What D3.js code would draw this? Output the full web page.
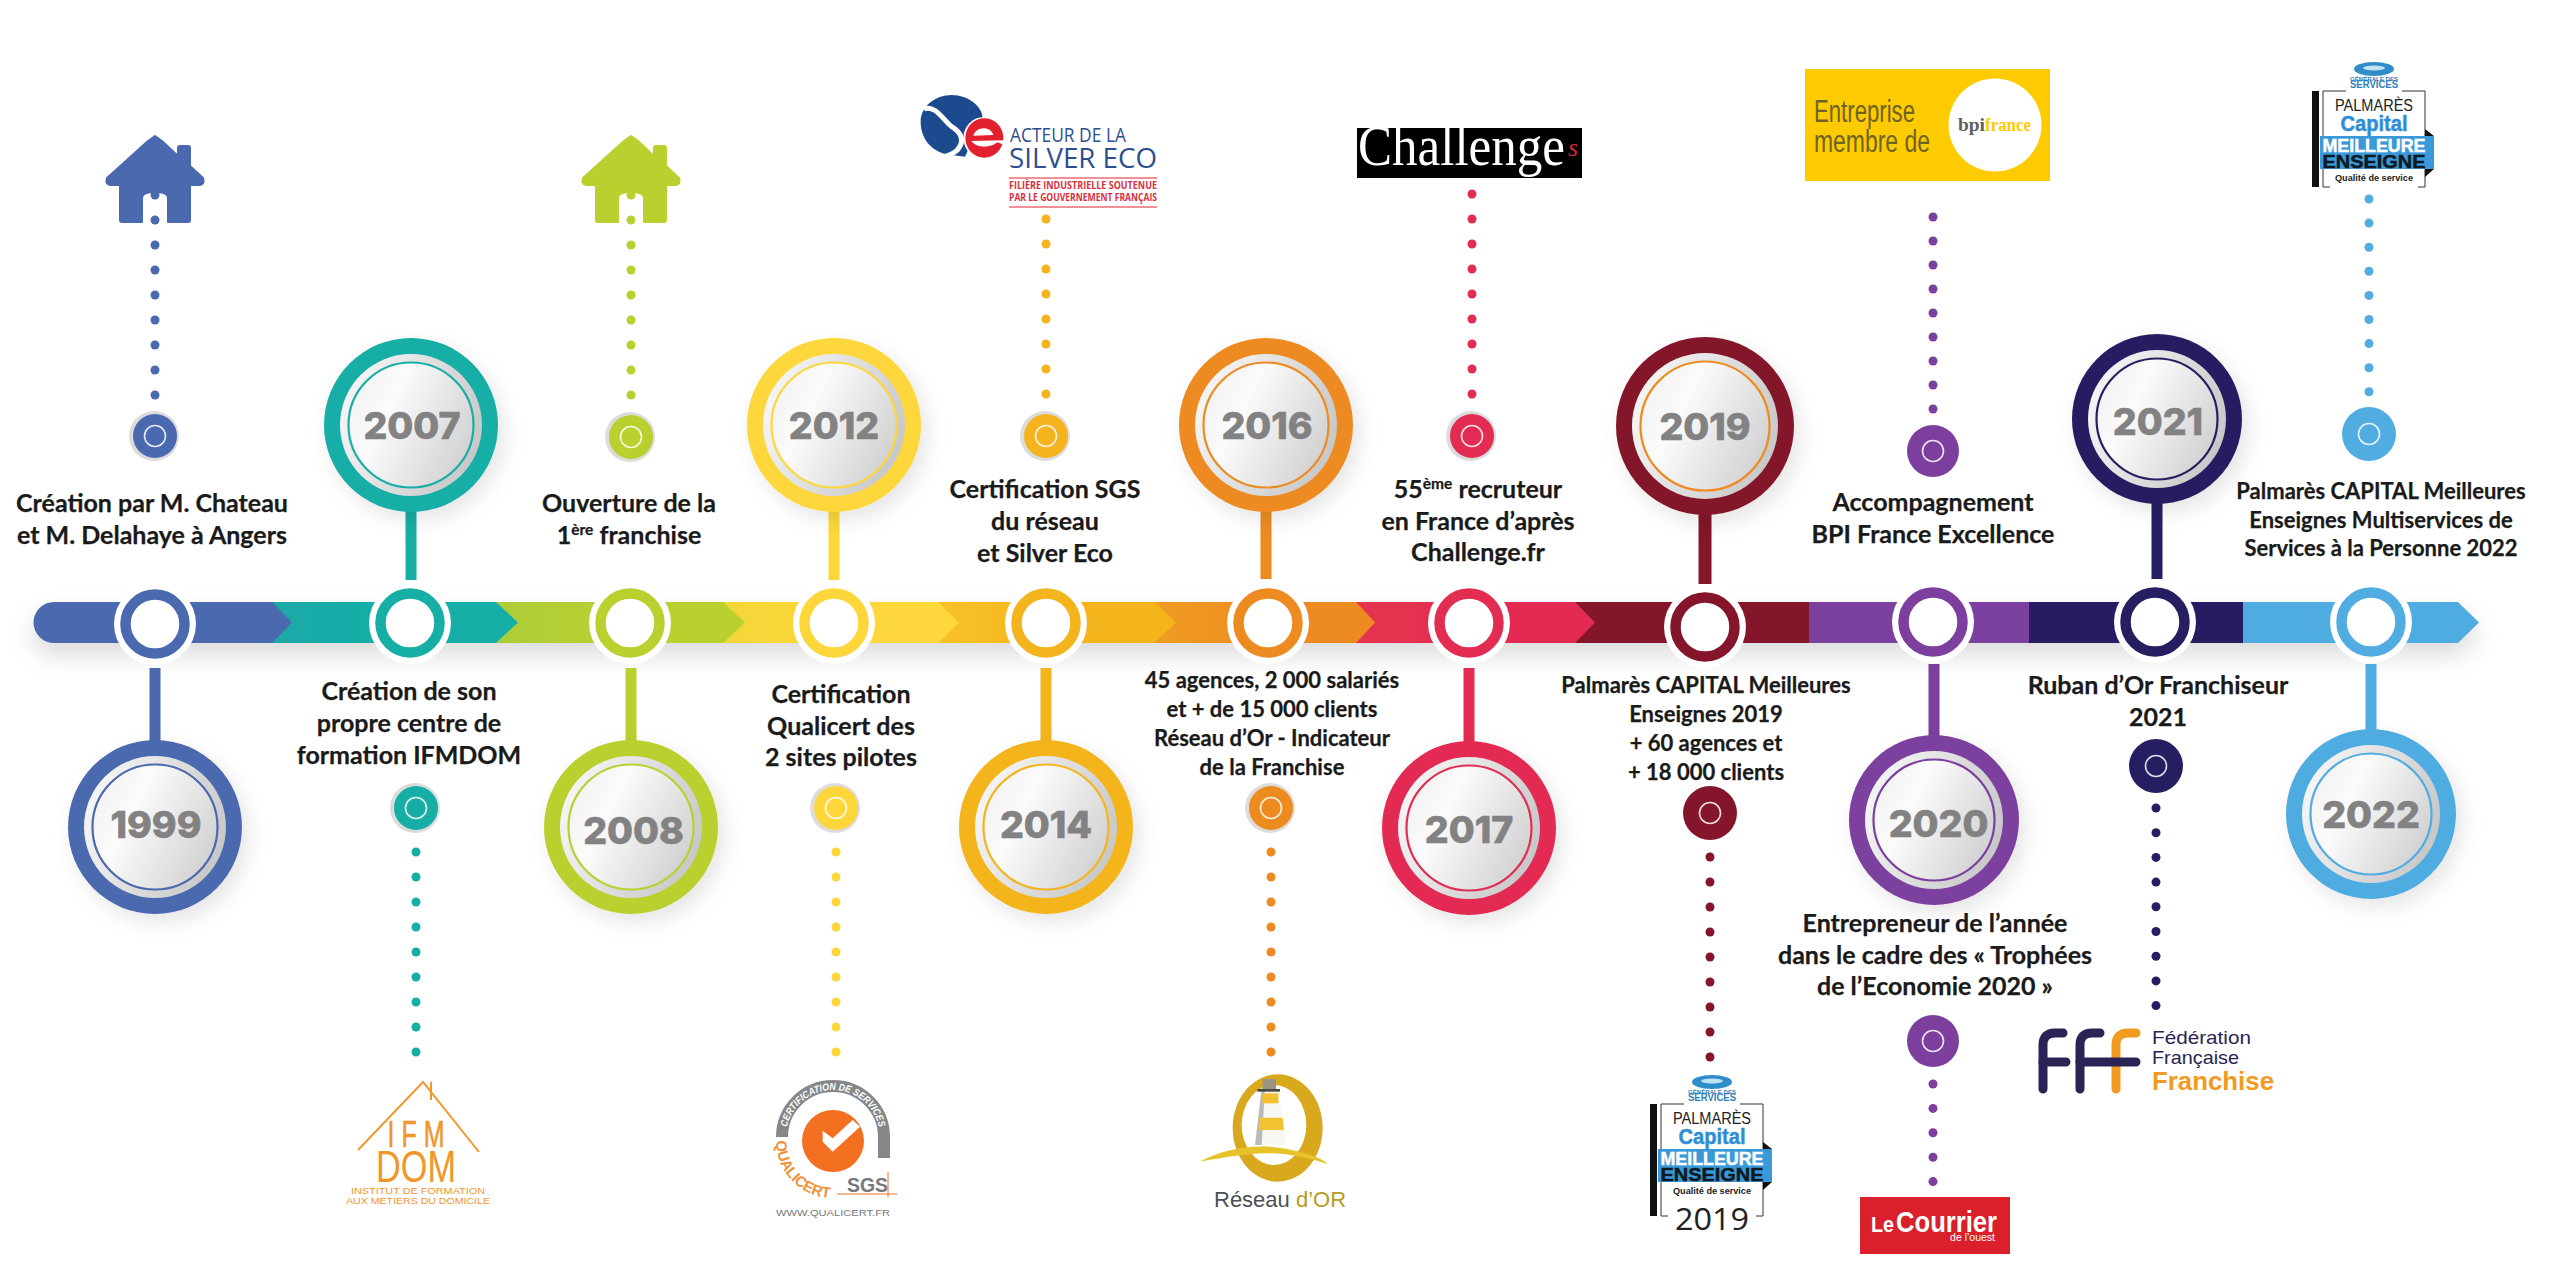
<!DOCTYPE html>
<html>
<head>
<meta charset="utf-8">
<script src="https://cdn.jsdelivr.net/npm/d3@7"></script>
<style>
html,body{margin:0;padding:0;background:#fff;overflow:hidden}
svg{display:block}
</style>
</head>
<body>
<script>
// timeline data
var years = ["1999","2007","2008","2012","2014","2016","2017","2019","2020","2021","2022"];
var bubbleDown = [1,0,1,0,1,0,1,0,1,0,1];
var dotCounts = [9,9,9,9,8,9,9,9,9,9,9];
var eventLabels = [
  ["Création par M. Chateau","et M. Delahaye à Angers"],
  ["Création de son","propre centre de","formation IFMDOM"],
  ["Ouverture de la","1^ère^ franchise"],
  ["Certification","Qualicert des","2 sites pilotes"],
  ["Certification SGS","du réseau","et Silver Eco"],
  ["45 agences, 2 000 salariés","et + de 15 000 clients","Réseau d’Or - Indicateur","de la Franchise"],
  ["55^ème^ recruteur","en France d’après","Challenge.fr"],
  ["Palmarès CAPITAL Meilleures","Enseignes 2019","+ 60 agences et","+ 18 000 clients"],
  ["Accompagnement","BPI France Excellence"],
  ["Ruban d’Or Franchiseur","2021"],
  ["Palmarès CAPITAL Meilleures","Enseignes Multiservices de","Services à la Personne 2022"]
];
var extraLabel = ["Entrepreneur de l’année","dans le cadre des « Trophées","de l’Economie 2020 »"];
var palette = ["#4b69ae","#17aea6","#b9d02f","#fdd73a","#f4b41e","#ed8b21","#e32c52","#84152a","#7c3f9e","#251f62","#50ace1"];

var width = 2560, height = 1288;

// layout scales, year -> pixel
var colour = d3.scaleOrdinal(years, palette);
var thinColour = d3.scaleOrdinal(years, ["#4b69ae","#17aea6","#b9d02f","#fdd73a","#f4b41e","#ed8b21","#e32c52","#ed8b21","#7c3f9e","#251f62","#50ace1"]);
var nodeX = d3.scaleOrdinal(years, [155,410,630,834,1046,1268,1469,1705,1933,2155,2371]);
var nodeY = d3.scaleOrdinal(years, [624,623,623,623,623,623,623,627,622,622,622]);
var bubbleX = d3.scaleOrdinal(years, [155,411,631,834,1046,1266,1469,1705,1934,2157,2371]);
var bubbleY = d3.scaleOrdinal(years, [827,425,827,425,827,425,828,426,820,419,814]);
var bubbleR = d3.scaleOrdinal(years, [87,87,87,87,87,87,87,89,85,85,85]);
var yearDx = d3.scaleOrdinal(years, [1,1,2.5,0,0,1,0,0,4.5,1,0]);
var yearDy = d3.scaleOrdinal(years, [-3,0,3,0,-2.5,0,1,0,3,2,0]);
var stemEnd = d3.scaleOrdinal(years, [668,580,668,580,668,579,668,584,664,579,664]);
var pinX = d3.scaleOrdinal(years, [155,416,631,836,1046,1271,1472,1710,1933,2156,2369]);
var pinY = d3.scaleOrdinal(years, [436,808,437,808,436,808,436,813,451,766,434]);
var pinR = d3.scaleOrdinal(years, [22,22,22,22,22,22,22,27,26,27,27]);
var labelX = d3.scaleOrdinal(years, [152,409,629,841,1045,1272,1478,1706,1933,2158,2381]);
var labelY = d3.scaleOrdinal(years, [512,700,512,703,498,688,498,693,511,694,499]);
var labelStep = d3.scaleOrdinal(years, [31.5,32,31.5,31.5,32,29,31.5,29,32,32,28.5]);
var labelSize = d3.scaleOrdinal(years, [25,25,25,25,25,22,25,22,25,25,22]);
var firstDot = d3.scaleOrdinal(years, [195,852,195,852,219,852,194,857,217,808,199]);
var dotStep = d3.scaleOrdinal(years, [25,25,25,25,25,25,25,25,24,24.7,24.1]);
// arrow ends along the band, last one is the final tip
var segEnd = d3.scaleOrdinal(years, [292,518,745,959,1176,1375,1595,1809,2029,2243,2479]);
var arrow = d3.scaleOrdinal(years, [20,22,22,21,22,19,20,0,0,0,21]);
// how much of the segment's own colour shows at its start (1 = flat)
var segMix = d3.scaleOrdinal(years, [1,0.92,0.92,0.85,0.6,0.55,0.92,1,1,1,1]);

var svg = d3.select("body").append("svg").attr("width",width).attr("height",height);
var defs = svg.append("defs");

var f = defs.append("filter").attr("id","soft").attr("x","-30%").attr("y","-30%").attr("width","160%").attr("height","160%");
f.append("feDropShadow").attr("dx",6).attr("dy",8).attr("stdDeviation",10).attr("flood-color","#000").attr("flood-opacity",0.1);
var fb = defs.append("filter").attr("id","bandShadow").attr("x","-5%").attr("y","-150%").attr("width","110%").attr("height","400%");
fb.append("feDropShadow").attr("dx",0).attr("dy",12).attr("stdDeviation",12).attr("flood-color","#000").attr("flood-opacity",0.14);

var g1 = defs.append("linearGradient").attr("id","rim").attr("x1","0").attr("y1","0.3").attr("x2","1").attr("y2","0.7");
g1.append("stop").attr("offset","0").attr("stop-color","#f6f6f6");
g1.append("stop").attr("offset","1").attr("stop-color","#c6c6c6");
var g2 = defs.append("linearGradient").attr("id","face").attr("x1","0").attr("y1","0.25").attr("x2","1").attr("y2","0.75");
g2.append("stop").attr("offset","0").attr("stop-color","#f2f2f2");
g2.append("stop").attr("offset","0.3").attr("stop-color","#fbfbfb");
g2.append("stop").attr("offset","1").attr("stop-color","#cfcfcf");

// band, drawn from the last segment back so each arrow tip lies over the next colour
var band = svg.append("g").attr("filter","url(#bandShadow)");
var bandTop = 602, bandH = 41;
function segStart(k){ return k==0 ? 54 : segEnd(years[k-1])-arrow(years[k-1])-2; }
years.forEach(function(y,k){
  if(segMix(y)==1) return;
  var lg = defs.append("linearGradient").attr("id","seg"+y).attr("gradientUnits","userSpaceOnUse")
    .attr("x1",segStart(k)).attr("x2",segStart(k)+120).attr("y1",0).attr("y2",0);
  lg.append("stop").attr("offset",0).attr("stop-color",d3.interpolateRgb(colour(years[k-1]),colour(y))(segMix(y)));
  lg.append("stop").attr("offset",1).attr("stop-color",colour(y));
});
band.selectAll("path.seg")
  .data(years.slice().reverse())
  .enter().append("path").attr("class","seg")
  .attr("fill",function(d){ return segMix(d)==1 ? colour(d) : "url(#seg"+d+")"; })
  .attr("d",function(d){
    var k = years.indexOf(d), x0 = segStart(k);
    var e = segEnd(d), a = arrow(d), p = d3.path();
    p.moveTo(x0,bandTop);
    p.lineTo(e-a,bandTop);
    p.lineTo(e,bandTop+bandH/2);
    p.lineTo(e-a,bandTop+bandH);
    p.lineTo(x0,bandTop+bandH);
    if(k==0){p.arc(x0,bandTop+bandH/2,bandH/2,Math.PI/2,Math.PI*1.5);}
    p.closePath();
    return p.toString();
  });

// connectors between band node and bubble
svg.selectAll("rect.stem")
  .data(years)
  .enter().append("rect").attr("class","stem")
  .attr("x",function(d){return bubbleX(d)-(d=="2019"?6.5:5.5);})
  .attr("width",function(d){return d=="2019"?13:11;})
  .attr("y",function(d,i){return bubbleDown[i] ? stemEnd(d) : bubbleY(d)+bubbleR(d)-6;})
  .attr("height",function(d,i){return bubbleDown[i] ? bubbleY(d)-stemEnd(d)-bubbleR(d)+6 : stemEnd(d)-bubbleY(d)-bubbleR(d)+6;})
  .attr("fill",function(d){return colour(d);});

// node rings on the band
var nodes = svg.selectAll("g.node").data(years).enter().append("g").attr("class","node")
  .attr("transform",function(d){return "translate("+nodeX(d)+","+nodeY(d)+")";});
nodes.append("circle").attr("r",41).attr("fill","#fff");
nodes.append("circle").attr("r",29.5).attr("fill","#fff")
  .attr("stroke",function(d){return colour(d);}).attr("stroke-width",10.5);

// year bubbles
var bubbles = svg.selectAll("g.bubble").data(years).enter().append("g").attr("class","bubble")
  .attr("transform",function(d){return "translate("+bubbleX(d)+","+bubbleY(d)+")";});
bubbles.append("circle").attr("r",function(d){return bubbleR(d);})
  .attr("fill",function(d){return colour(d);}).attr("filter","url(#soft)");
bubbles.append("circle").attr("r",function(d){return bubbleR(d)-16;}).attr("fill","url(#rim)");
bubbles.append("circle").attr("r",function(d){return bubbleR(d)-24.5;}).attr("fill","url(#face)")
  .attr("stroke",function(d){return thinColour(d);}).attr("stroke-width",2.2);
bubbles.append("text").text(function(d){return d;})
  .attr("text-anchor","middle")
  .attr("x",function(d){return yearDx(d);})
  .attr("y",function(d){return 13.5+yearDy(d);})
  .attr("font-family","Inter").attr("font-weight",800).attr("font-size",37.5)
  .attr("fill","#828282").attr("stroke","#828282").attr("stroke-width",0.6);

// pins: halo, disc and small white ring
var pins = svg.selectAll("g.pin").data(years).enter().append("g").attr("class","pin")
  .attr("transform",function(d){return "translate("+pinX(d)+","+pinY(d)+")";});
pins.append("circle").attr("r",function(d){return pinR(d)+3;})
  .attr("fill",function(d){return pinR(d)<25 ? "#dcdcdc" : "none";}).attr("transform","translate(-1,0)");
pins.append("circle").attr("r",function(d){return pinR(d);}).attr("fill",function(d){return colour(d);});
pins.append("circle").attr("r",10.5).attr("fill","none").attr("stroke","#fff").attr("stroke-opacity",0.85).attr("stroke-width",1.6);

// dotted leaders
years.forEach(function(y,i){
  svg.append("g").selectAll("circle")
    .data(d3.range(dotCounts[i]))
    .enter().append("circle")
    .attr("cx",pinX(y))
    .attr("cy",function(k){return firstDot(y)+k*dotStep(y);})
    .attr("r",4.5)
    .attr("fill",colour(y));
});
// second pin and leader of 2020, below the bubble
var extraPin = svg.append("g").attr("transform","translate(1933,1041)");
extraPin.append("circle").attr("r",26).attr("fill",colour("2020"));
extraPin.append("circle").attr("r",10.5).attr("fill","none").attr("stroke","#fff").attr("stroke-opacity",0.85).attr("stroke-width",1.6);
svg.append("g").selectAll("circle").data(d3.range(5)).enter().append("circle")
  .attr("cx",1933).attr("cy",function(k){return 1084+k*24.4;}).attr("r",4.5).attr("fill",colour("2020"));

// labels with ^sup^ markup
function writeLines(sel,lines,x,y,step,size){
  var t = sel.append("g").attr("font-family","Lato").attr("font-weight",700)
    .attr("font-size",size).attr("fill","#1a1a1a").attr("stroke","#1a1a1a").attr("stroke-width",0.25).attr("text-anchor","middle");
  t.selectAll("text").data(lines).enter().append("text")
    .attr("x",x).attr("y",function(d,i){return y+i*step;})
    .each(function(d){
      var el = d3.select(this);
      d.split("^").forEach(function(part,n){
        var ts = el.append("tspan").text(part);
        if(n==1){ts.attr("dy",-size*0.35).attr("font-size",size*0.62);}
        if(n==2){ts.attr("dy",size*0.35);}
      });
    });
}
years.forEach(function(y,i){
  writeLines(svg,eventLabels[i],labelX(y),labelY(y),labelStep(y),labelSize(y));
});
writeLines(svg,extraLabel,1935,932,31.5,25);

// logos, plain shapes and text
function logoText(g,s,x,y,size,fill,opt){
  opt = opt||{};
  var t = g.append("text").text(s).attr("x",x).attr("y",y).attr("font-size",size).attr("fill",fill)
    .attr("font-family",opt.family||"Liberation Sans").attr("font-weight",opt.weight||400)
    .attr("text-anchor",opt.anchor||"middle").attr("font-style",opt.style||"normal")
    .attr("letter-spacing",opt.spacing||0);
  if(opt.len){t.attr("textLength",opt.len).attr("lengthAdjust","spacingAndGlyphs");}
  return t;
}
function house(x,fill){
  var g = svg.append("g").attr("transform","translate("+x+",136)").attr("fill",fill);
  g.append("path").attr("d","M0,0 L-7,5 L-48,42 Q-50,48 -45,49 L-35,49 L-35,84 Q-35,86 -33,86 L-13,86 L-13,62 Q-13,56 0,56 Q13,56 13,62 L13,86 L33,86 Q35,86 35,84 L35,49 L45,49 Q50,48 48,42 L35,30 L35,12 Q35,10 33,10 L25,10 Q23,10 23,12 L23,20 L7,5 Z").attr("stroke",fill).attr("stroke-width",2).attr("stroke-linejoin","round");
}
house(155,colour("1999"));
house(631,colour("2008"));

// silver eco, mark traced at 3x
var se = svg.append("g");
var seMark = se.append("g").attr("transform","translate(910,85) scale(0.3333)");
seMark.append("path").attr("d","M125,30 C175,30 218,65 218,100 L165,215 L125,210 C70,205 32,165 32,110 C32,65 75,30 125,30 Z").attr("fill","#1c4a8e");
seMark.append("path").attr("d","M42,72 C75,58 100,105 125,125 C150,140 168,165 142,195 C130,207 115,212 96,216").attr("fill","none").attr("stroke","#fff").attr("stroke-width",15);
seMark.append("ellipse").attr("cx",222).attr("cy",159).attr("rx",62).attr("ry",63).attr("fill","#fff");
seMark.append("ellipse").attr("cx",223).attr("cy",159).attr("rx",57).attr("ry",59).attr("fill","#e3202e");
// counter and mouth of the e
seMark.append("path").attr("d","M190,152 C196,126 240,120 250,150 Z").attr("fill","#fff");
seMark.append("path").attr("d","M184,168 C200,190 240,190 262,172 L284,180 L284,166 Z").attr("fill","#fff");
logoText(se,"ACTEUR DE LA",1010,142,20,"#2c4f8f",{anchor:"start",family:"Open Sans",len:116});
logoText(se,"SILVER ECO",1009,168,27,"#2c4f8f",{anchor:"start",family:"Open Sans",len:148});
se.append("line").attr("x1",1009).attr("x2",1157).attr("y1",178).attr("y2",178).attr("stroke","#e3202e");
se.append("line").attr("x1",1009).attr("x2",1157).attr("y1",207).attr("y2",207).attr("stroke","#e3202e");
logoText(se,"FILIÈRE INDUSTRIELLE SOUTENUE",1009,189,10,"#d8303c",{anchor:"start",family:"Open Sans",weight:700,len:148});
logoText(se,"PAR LE GOUVERNEMENT FRANÇAIS",1009,201,10,"#d8303c",{anchor:"start",family:"Open Sans",weight:700,len:148});

// challenges
var ch = svg.append("g");
ch.append("rect").attr("x",1357).attr("y",128).attr("width",225).attr("height",50).attr("fill","#000");
logoText(ch,"Challenge",1358,165,56,"#fff",{anchor:"start",family:"Liberation Serif",len:207});
logoText(ch,"s",1568,156,26,"#d8203c",{anchor:"start",family:"Liberation Serif",style:"italic"});

// bpifrance
var bpi = svg.append("g");
bpi.append("rect").attr("x",1805).attr("y",69).attr("width",245).attr("height",112).attr("fill","#fecb00");
logoText(bpi,"Entreprise",1814,122,31,"#6e6326",{anchor:"start",len:101});
logoText(bpi,"membre de",1814,152,31,"#6e6326",{anchor:"start",len:116});
bpi.append("circle").attr("cx",1995).attr("cy",125).attr("r",46.5).attr("fill","#fff");
logoText(bpi,"bpi",1958,131,19,"#5f5f5f",{anchor:"start",weight:700,family:"Liberation Serif",len:27});
logoText(bpi,"france",1985,131,19,"#fecb00",{anchor:"start",weight:700,family:"Liberation Serif",len:46});

// palmares badge, used twice
function palmares(x,y,yearText){
  var g = svg.append("g").attr("transform","translate("+x+","+y+")");
  var low = yearText ? 94 : 78;
  g.append("ellipse").attr("cx",0).attr("cy",-40).attr("rx",20).attr("ry",7).attr("fill","#2f8ec9");
  g.append("ellipse").attr("cx",0).attr("cy",-41).attr("rx",11).attr("ry",2.5).attr("fill","#bfe2f5");
  logoText(g,"GÉNÉRALE DES",0,-28,6,"#2f7fb8",{weight:700,len:48});
  logoText(g,"SERVICES",0,-21,10,"#2f7fb8",{weight:700,len:48});
  g.append("rect").attr("x",-62).attr("y",-18).attr("width",7).attr("height",low+18).attr("fill","#111");
  g.append("path").attr("d","M-28,-18 H-51 V"+low+" H-44 M28,-18 H51 V"+low+" H44").attr("stroke","#333").attr("fill","none");
  logoText(g,"PALMARÈS",0,2,16,"#222",{len:78});
  logoText(g,"Capital",0,22,22,"#2f8ed6",{weight:700,len:67}).attr("stroke","#2f8ed6").attr("stroke-width",0.5);
  g.append("rect").attr("x",-54).attr("y",27).attr("width",114).attr("height",33).attr("fill","#3a9ad9");
  g.append("path").attr("d","M51,20 L60,27 H51 Z M51,60 H60 L51,68 Z").attr("fill","#111");
  logoText(g,"MEILLEURE",0,43,18,"#fff",{weight:700,len:103}).attr("stroke","#fff").attr("stroke-width",0.5);
  logoText(g,"ENSEIGNE",0,59,18,"#0d1a24",{weight:700,len:103}).attr("stroke","#0d1a24").attr("stroke-width",0.5);
  logoText(g,"Qualité de service",0,72,9,"#222",{weight:700,len:78});
  if(yearText){logoText(g,yearText,0,108,31,"#222",{family:"Open Sans",len:74});}
}
palmares(2374,109,null);
palmares(1712,1122,"2019");

// le courrier
var lc = svg.append("g");
lc.append("rect").attr("x",1860).attr("y",1197).attr("width",150).attr("height",57).attr("fill","#d9202b");
logoText(lc,"Le",1871,1232,22,"#fff",{anchor:"start",weight:700,len:23});
logoText(lc,"Courrier",1896,1232,30,"#fff",{anchor:"start",weight:700,len:101});
logoText(lc,"de l’ouest",1995,1241,10.5,"#fff",{anchor:"end"});

// fff
var ff = svg.append("g").attr("fill","none").attr("stroke-width",9).attr("stroke-linecap","round");
[[2043,"#2a2456"],[2080,"#2a2456"],[2116,"#f39a21"]].forEach(function(p){
  ff.append("path").attr("stroke",p[1]).attr("d","M"+p[0]+",1089 V1045 Q"+p[0]+",1033 "+(p[0]+12)+",1033 H"+(p[0]+20));
});
ff.append("path").attr("stroke","#2a2456").attr("d","M2043,1062 H2066 M2080,1062 H2136");
logoText(svg,"Fédération",2152,1044,19,"#2a2456",{anchor:"start",len:99});
logoText(svg,"Française",2152,1064,19,"#2a2456",{anchor:"start",len:87});
logoText(svg,"Franchise",2152,1090,26,"#f39a21",{anchor:"start",weight:700,len:122});

// ifm dom
var ifm = svg.append("g");
ifm.append("path").attr("d","M358,1150 L423,1082 L479,1152 M431,1082 V1100").attr("fill","none").attr("stroke","#f0962a").attr("stroke-width",2);
logoText(ifm,"I F M",416,1147,36,"#f0962a",{len:57}).attr("stroke","#f0962a").attr("stroke-width",0.6);
logoText(ifm,"DOM",416,1182,45,"#f0962a",{len:80});
logoText(ifm,"INSTITUT DE FORMATION",418,1194,9,"#f0962a",{len:134});
logoText(ifm,"AUX METIERS DU DOMICILE",418,1204,9,"#f0962a",{len:144});

// qualicert, traced at 3x where it helps
var qu = svg.append("g");
qu.append("path").attr("d","M782,1137 A51,51 0 0 1 884,1137 V1158").attr("fill","none").attr("stroke","#85878a").attr("stroke-width",12);
qu.append("circle").attr("cx",833).attr("cy",1141).attr("r",31).attr("fill","#f37021");
qu.append("g").attr("transform","translate(760,1070) scale(0.3333)").append("path")
  .attr("d","M188,182 L188,215 L218,245 L300,170 L278,150 L218,205 Z").attr("fill","#fff");
defs.append("path").attr("id","quArc").attr("d","M786,1137 A47,47 0 0 1 880,1137");
qu.append("text").attr("font-family","Liberation Sans").attr("font-size",10).attr("font-weight",700).attr("font-style","italic").attr("fill","#fff")
  .append("textPath").attr("href","#quArc").attr("startOffset","50%").attr("text-anchor","middle").attr("textLength",128).attr("lengthAdjust","spacingAndGlyphs").text("CERTIFICATION DE SERVICES");
defs.append("path").attr("id","quArc2").attr("d","M776,1141 A57,57 0 0 0 833,1198");
qu.append("text").attr("font-family","Liberation Sans").attr("font-size",15).attr("font-weight",700).attr("fill","#f0913a")
  .append("textPath").attr("href","#quArc2").attr("textLength",86).attr("lengthAdjust","spacingAndGlyphs").text("QUALICERT");
logoText(qu,"SGS",847,1192,21,"#77787b",{anchor:"start",weight:700,len:41});
qu.append("path").attr("d","M837,1194 H897 M888,1172 V1197").attr("stroke","#f37021").attr("fill","none");
logoText(qu,"WWW.QUALICERT.FR",833,1216,8.5,"#777",{len:114});

// reseau d'or, traced at 3x
var ro = svg.append("g");
var rm = ro.append("g").attr("transform","translate(1200,1065) scale(0.3333)");
rm.append("path").attr("fill-rule","evenodd").attr("fill","#d9a91d")
  .attr("d","M98,189 A135,161 0 1 1 368,189 A135,161 0 1 1 98,189 Z M125,180 A97,120 0 1 0 319,180 A97,120 0 1 0 125,180 Z");
rm.append("path").attr("d","M185,70 H235 L258,240 H165 Z").attr("fill","#f8f7f1");
rm.append("path").attr("d","M185,70 L165,240 H185 L195,70 Z").attr("fill","#b9babb");
rm.append("path").attr("d","M180,158 H248 L252,195 H175 Z").attr("fill","#f2c230");
rm.append("rect").attr("x",187).attr("y",85).attr("width",48).attr("height",30).attr("fill","#f2c230");
rm.append("rect").attr("x",172).attr("y",72).attr("width",68).attr("height",8).attr("fill","#4a4640");
rm.append("rect").attr("x",188).attr("y",42).attr("width",40).attr("height",30).attr("fill","#9a9484");
rm.append("path").attr("d","M0,290 C70,250 170,235 250,250 C310,262 360,275 385,298 C330,280 260,262 190,265 C120,268 60,280 0,290 Z").attr("fill","#e6c32a");
var rt = logoText(ro,"Réseau ",1214,1207,22,"#4a4f55",{anchor:"start"});
rt.append("tspan").text("d’OR").attr("fill","#b69c1f");
</script>
</body>
</html>
